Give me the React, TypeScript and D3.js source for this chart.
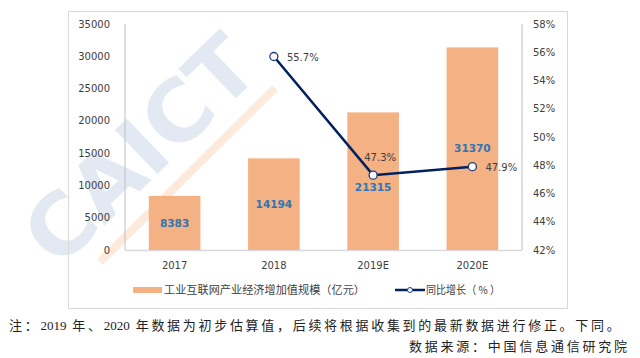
import React from "react";
import * as d3 from "d3";

const categories = ["2017", "2018", "2019E", "2020E"];
const scaleValues = [8383, 14194, 21315, 31370];
const growthValues: (number | null)[] = [null, 55.7, 47.3, 47.9];
const leftTicks = [0, 5000, 10000, 15000, 20000, 25000, 30000, 35000];
const rightTicks = [42, 44, 46, 48, 50, 52, 54, 56, 58];
const barLegend = "工业互联网产业经济增加值规模（亿元）";
const lineLegend = "同比增长（ % ）";
const noteParts = ["注：", "2019", " 年、", "2020", " 年数据为初步估算值，后续将根据收集到的最新数据进行修正。下同。"];
const sourceText = "数据来源：中国信息通信研究院";
const watermark = "CAICT";

const W = 640;
const H = 358;
const plot = { left: 125, right: 522, top: 24, bottom: 250 };

export default function App() {
  const x = d3.scaleBand<string>().domain(categories).range([plot.left, plot.right]).paddingInner(0.48).paddingOuter(0.24);
  const yL = d3.scaleLinear().domain([0, 35000]).range([plot.bottom, plot.top]);
  const yR = d3.scaleLinear().domain([42, 58]).range([plot.bottom, plot.top]);
  const cx = (c: string) => (x(c) as number) + x.bandwidth() / 2;

  const pts = categories
    .map((c, i) => ({ c, v: growthValues[i] }))
    .filter((d) => d.v !== null) as { c: string; v: number }[];
  const line = d3.line<{ c: string; v: number }>().x((d) => cx(d.c)).y((d) => yR(d.v));

  const axisFont = "DejaVu Sans, Verdana, sans-serif";
  const cjk = "Noto Sans CJK SC, sans-serif";
  const textColor = "#404040";

  const barLabelY = (c: string, i: number) => {
    const mid = (yL(scaleValues[i]) + plot.bottom) / 2;
    const g = growthValues[i];
    if (g !== null) {
      const my = yR(g);
      if (Math.abs(mid - my) < 12) return my + 12;
    }
    return mid;
  };

  return (
    <svg width={W} height={H} style={{ position: "absolute", left: 0, top: 0 }}>
      <rect x={0} y={0} width={W} height={H} fill="#ffffff" />
      {/* watermark */}
      <g>
        <line x1={100} y1={262} x2={275} y2={88} stroke="#fdeadb" strokeWidth={8} />
        <text
          transform="translate(58,270) rotate(-44)"
          fontFamily="DejaVu Sans, sans-serif"
          fontWeight="bold"
          fontSize={84}
          fill="#e3e9f2"
          textLength={285}
          lengthAdjust="spacingAndGlyphs"
        >
          {watermark}
        </text>
      </g>
      {/* chart frame */}
      <rect x={68.5} y={11.5} width={499} height={297} fill="none" stroke="#d9d9d9" strokeWidth={1} />
      {/* axes lines */}
      <line x1={plot.left} y1={plot.top} x2={plot.left} y2={plot.bottom} stroke="#bfbfbf" />
      <line x1={plot.right} y1={plot.top} x2={plot.right} y2={plot.bottom} stroke="#bfbfbf" />
      <line x1={plot.left} y1={plot.bottom + 0.5} x2={plot.right} y2={plot.bottom + 0.5} stroke="#d9d9d9" strokeWidth={1.5} />
      {/* left ticks */}
      {leftTicks.map((t) => (
        <text key={t} x={110} y={yL(t)} dy="0.35em" textAnchor="end" fontFamily={axisFont} fontSize={10} fill={textColor}>
          {t}
        </text>
      ))}
      {/* right ticks */}
      {rightTicks.map((t) => (
        <text key={t} x={533} y={yR(t)} dy="0.35em" textAnchor="start" fontFamily={axisFont} fontSize={10} fill={textColor}>
          {t}%
        </text>
      ))}
      {/* bars */}
      {categories.map((c, i) => (
        <rect key={c} x={x(c)} y={yL(scaleValues[i])} width={x.bandwidth()} height={plot.bottom - yL(scaleValues[i])} fill="#F4B183" />
      ))}
      {/* bar labels */}
      {categories.map((c, i) => (
        <text
          key={c}
          x={cx(c)}
          y={barLabelY(c, i)}
          dy="0.35em"
          textAnchor="middle"
          fontFamily={axisFont}
          fontWeight="bold"
          fontSize={10.5}
          fill="#2E75B6"
        >
          {scaleValues[i]}
        </text>
      ))}
      {/* x labels */}
      {categories.map((c) => (
        <text key={c} x={cx(c)} y={265} dy="0.35em" textAnchor="middle" fontFamily={axisFont} fontSize={10} fill={textColor}>
          {c}
        </text>
      ))}
      {/* line */}
      <path d={line(pts) || ""} fill="none" stroke="#002060" strokeWidth={2.5} />
      {pts.map((d) => (
        <circle key={d.c} cx={cx(d.c)} cy={yR(d.v)} r={4} fill="#ffffff" stroke="#1f3d7a" strokeWidth={1.3} />
      ))}
      {pts.map((d, i) => {
        const above = i === 1;
        return (
          <text
            key={d.c}
            x={above ? cx(d.c) + 7 : cx(d.c) + 13}
            y={above ? yR(d.v) - 18 : yR(d.v) + 1}
            dy="0.35em"
            textAnchor={above ? "middle" : "start"}
            fontFamily={axisFont}
            fontSize={10}
            fill={textColor}
          >
            {d.v}%
          </text>
        );
      })}
      {/* legend */}
      <rect x={133} y={287} width={29} height={6} fill="#F4B183" />
      <text x={164} y={290} dy="0.35em" fontFamily={cjk} fontSize={11} fill={textColor} textLength={201} lengthAdjust="spacingAndGlyphs">
        {barLegend}
      </text>
      <line x1={395} y1={290} x2={425} y2={290} stroke="#002060" strokeWidth={2.5} />
      <circle cx={410} cy={290} r={2.5} fill="#ffffff" stroke="#1f3d7a" strokeWidth={1} />
      <text x={426} y={290} dy="0.35em" fontFamily={cjk} fontSize={11} fill={textColor} textLength={74} lengthAdjust="spacingAndGlyphs">
        {lineLegend}
      </text>
      {/* notes */}
      <text x={9} y={325} dy="0.35em" fontFamily="Liberation Serif, Noto Sans CJK SC, serif" fontSize={13} fill="#222222">
        {noteParts.map((p, i) => (
          <tspan key={i} letterSpacing={i % 2 === 0 ? 2.7 : 0}>
            {p}
          </tspan>
        ))}
      </text>
      <text x={409} y={346} dy="0.35em" fontFamily="Noto Sans CJK SC, serif" fontSize={13} fill="#222222" textLength={218} lengthAdjust="spacing">
        {sourceText}
      </text>
    </svg>
  );
}
